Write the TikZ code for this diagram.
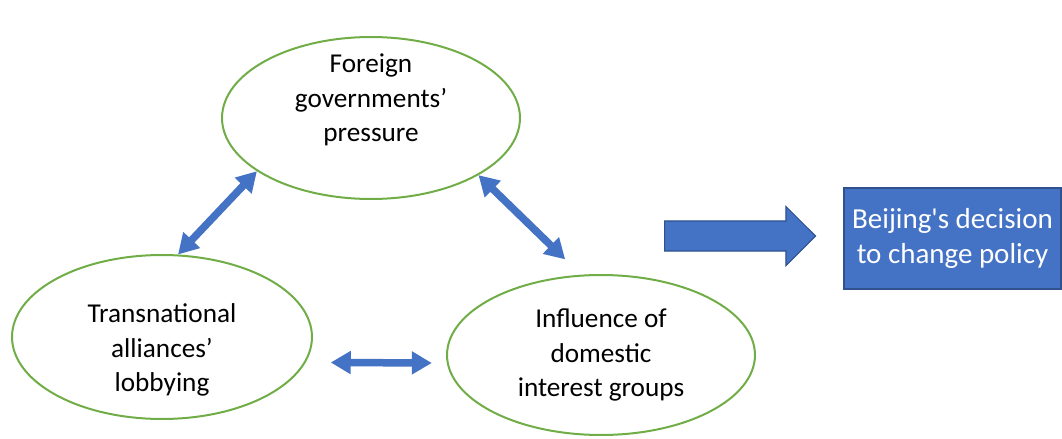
\documentclass[tikz,border=0pt]{standalone}
\usepackage{fontspec}
\setmainfont{Carlito}
\usetikzlibrary{shapes.geometric,shapes.arrows,arrows.meta,positioning}
\definecolor{leafgreen}{HTML}{70AD47}
\definecolor{boxblue}{HTML}{4472C4}
\definecolor{edgeblue}{HTML}{2F528F}

\begin{document}
\begin{tikzpicture}[x=0.02cm, y=-0.02cm,
			factor/.style={ellipse, draw=leafgreen, line width=0.04cm, inner sep=0pt},
			factortext/.style={align=center, font=\fontsize{15.5}{19.8}\selectfont},
			link/.style={{Triangle[width=0.44cm,length=0.4cm]}-{Triangle[width=0.44cm,length=0.4cm]}, line width=0.15cm, boxblue},
			bigarrow/.style={single arrow, draw=edgeblue, fill=boxblue, line width=0.6pt, minimum height=3.02cm, inner xsep=0pt, inner ysep=0.29cm, single arrow head extend=0.29cm},
			result/.style={rectangle, draw=edgeblue, fill=boxblue, line width=0.8pt, text=white, minimum width=4.34cm, minimum height=2.02cm, align=center, font=\fontsize{16.5}{19.8}\selectfont}]

			\useasboundingbox (0,0) rectangle (1062,439);

			\node[factor, minimum width=5.96cm, minimum height=3.24cm] (F1) at (371,118) {};
			\node[factor, minimum width=6cm, minimum height=3.28cm] (F2) at (162,337) {};
			\node[factor, minimum width=6.16cm, minimum height=3.2cm] (F3) at (601,355) {};

			\node[factortext] (T1) at (371,100) {Foreign\\governments’\\pressure};
			\node[factortext] (T2) at (162,350) {Transnational\\alliances’\\lobbying};
			\node[factortext] (T3) at (601,355) {Influence of\\domestic\\interest groups};

			\draw[link] (F2.79) -- (F1.205);
			\draw[link, shorten >=0.44cm] (F1.332) -- (F3.104.6);
			\draw[link, shorten <=0.5cm, shorten >=0.3cm] (F2.350.4) -- (F3.183);

			\node[bigarrow] (A1) at (732.5,236) {};
			\node[result] (R1) at (952.5,238.5) {Beijing\textquotesingle s decision\\to change policy};
		\end{tikzpicture}
\end{document}
